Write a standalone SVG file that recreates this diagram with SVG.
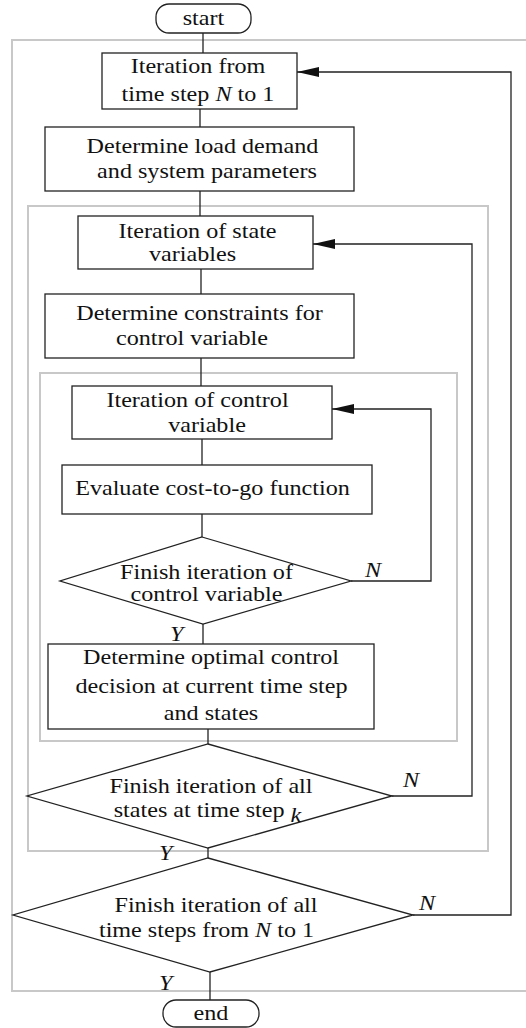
<svg xmlns="http://www.w3.org/2000/svg" width="526" height="1028" viewBox="0 0 526 1028">
<defs>
<style>
.frame{fill:none;stroke:#c8c8c8;stroke-width:2}
.box{fill:#fff;stroke:#222;stroke-width:1.3}
.ln{fill:none;stroke:#222;stroke-width:1.3}
.t{font-family:'Liberation Serif','DejaVu Serif',serif;font-size:21px;fill:#111}
.c{text-anchor:middle}
.i{font-style:italic}
</style>
<marker id="ah" markerUnits="userSpaceOnUse" markerWidth="22" markerHeight="10" refX="22" refY="5" orient="auto"><path d="M0,0 L22,5 L0,10 z" fill="#111"/></marker>
</defs>
<rect width="526" height="1028" fill="#fff"/>
<g id="frames">
<rect class="frame" x="12" y="40" width="540" height="951"/>
<rect class="frame" x="28" y="206" width="460" height="645"/>
<rect class="frame" x="40" y="373" width="417" height="368"/>
</g>
<g id="connectors" class="t" font-family="Liberation Serif, serif">
<line class="ln" x1="203" y1="33" x2="203" y2="53"/>
<line class="ln" x1="200" y1="109" x2="200" y2="127"/>
<line class="ln" x1="200" y1="191" x2="200" y2="216"/>
<line class="ln" x1="201" y1="269" x2="201" y2="294"/>
<line class="ln" x1="201" y1="358" x2="201" y2="386"/>
<line class="ln" x1="202" y1="439" x2="202" y2="465"/>
<line class="ln" x1="202" y1="514" x2="202" y2="537"/>
<line class="ln" x1="203" y1="624" x2="203" y2="644"/>
<line class="ln" x1="208" y1="729" x2="208" y2="744"/>
<line class="ln" x1="208" y1="848" x2="208" y2="858"/>
<line class="ln" x1="210" y1="972" x2="210" y2="1000"/>
<polyline class="ln" points="351,581 431,581 431,409 332,409" marker-end="url(#ah)"/>
<polyline class="ln" points="392,796 472,796 472,244 313,244" marker-end="url(#ah)"/>
<polyline class="ln" points="413,915 511,915 511,72 297,72" marker-end="url(#ah)"/>
<text class="i" transform="translate(365 577) scale(1.15 1)">N</text>
<text class="i" transform="translate(170 641) scale(1.15 1)">Y</text>
<text class="i" transform="translate(403 787) scale(1.15 1)">N</text>
<text class="i" transform="translate(159 860) scale(1.15 1)">Y</text>
<text class="i" transform="translate(419 910) scale(1.15 1)">N</text>
<text class="i" transform="translate(159 990) scale(1.15 1)">Y</text>
</g>
<g class="t" font-family="Liberation Serif, serif">
<g id="start">
<rect class="box" x="156" y="4" width="95" height="29" rx="13" ry="13"/>
<text class="c" transform="translate(203.5 25) scale(1.15 1)">start</text>
</g>
<g id="iter-time">
<rect class="box" x="102" y="53" width="195" height="56"/>
<text class="c" transform="translate(198 73) scale(1.15 1)">Iteration from</text>
<text class="c" transform="translate(198 101) scale(1.15 1)">time step <tspan class="i">N</tspan> to 1</text>
</g>
<g id="load-demand">
<rect class="box" x="45" y="127" width="309" height="64"/>
<text class="c" transform="translate(202.5 153) scale(1.15 1)">Determine load demand</text>
<text class="c" transform="translate(207 178) scale(1.15 1)">and system parameters</text>
</g>
<g id="iter-state">
<rect class="box" x="78" y="216" width="235" height="53"/>
<text class="c" transform="translate(197.5 238) scale(1.15 1)">Iteration of state</text>
<text class="c" transform="translate(192.5 261) scale(1.15 1)">variables</text>
</g>
<g id="constraints">
<rect class="box" x="45" y="294" width="309" height="64"/>
<text class="c" transform="translate(199.5 320) scale(1.15 1)">Determine constraints for</text>
<text class="c" transform="translate(192 345) scale(1.15 1)">control variable</text>
</g>
<g id="iter-control">
<rect class="box" x="72" y="386" width="260" height="53"/>
<text class="c" transform="translate(197.5 407) scale(1.15 1)">Iteration of control</text>
<text class="c" transform="translate(207 432) scale(1.15 1)">variable</text>
</g>
<g id="evaluate">
<rect class="box" x="62" y="465" width="310" height="49"/>
<text class="c" transform="translate(212.5 495) scale(1.15 1)">Evaluate cost-to-go function</text>
</g>
<g id="finish-control">
<polygon class="box" points="202,537 351,581 203,624 60,581"/>
<text class="c" transform="translate(206.5 579) scale(1.15 1)">Finish iteration of</text>
<text class="c" transform="translate(206.5 601) scale(1.15 1)">control variable</text>
</g>
<g id="optimal">
<rect class="box" x="48" y="644" width="326" height="85"/>
<text class="c" transform="translate(211 664) scale(1.15 1)">Determine optimal control</text>
<text class="c" transform="translate(211.5 693) scale(1.15 1)">decision at current time step</text>
<text class="c" transform="translate(211 720) scale(1.15 1)">and states</text>
</g>
<g id="finish-states">
<polygon class="box" points="208,744 392,796 208,848 27,796"/>
<text class="c" transform="translate(211 793) scale(1.15 1)">Finish iteration of all</text>
<text class="c" transform="translate(207.5 817) scale(1.15 1)">states at time step <tspan class="i" dy="5">k</tspan></text>
</g>
<g id="finish-time">
<polygon class="box" points="208,858 413,915 210,972 13,915"/>
<text class="c" transform="translate(216 912) scale(1.15 1)">Finish iteration of all</text>
<text class="c" transform="translate(206.5 937) scale(1.15 1)">time steps from <tspan class="i">N</tspan> to 1</text>
</g>
<g id="end">
<rect class="box" x="163" y="1000" width="96" height="27" rx="13" ry="13"/>
<text class="c" transform="translate(211 1020) scale(1.15 1)">end</text>
</g>
</g>
</svg>
